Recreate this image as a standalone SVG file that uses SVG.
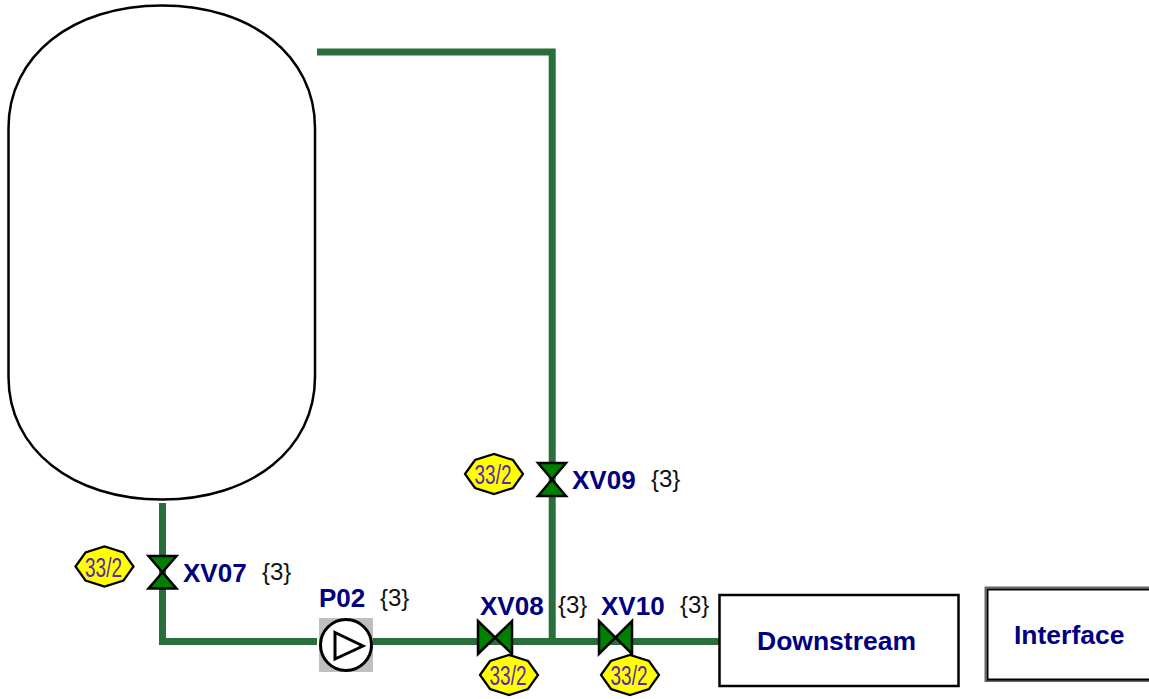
<svg xmlns="http://www.w3.org/2000/svg" width="1149" height="699" viewBox="0 0 1149 699">
<style>
.pipe{fill:none;stroke:#2a6e3c;stroke-width:7;stroke-linejoin:miter;stroke-linecap:butt}
.valve{fill:#008000;stroke:#000;stroke-width:2.5;stroke-linejoin:miter}
.badge{fill:#ffff00;stroke:#000;stroke-width:2.2}
.bt{font-family:"Liberation Sans",Arial,sans-serif;font-size:27px;fill:#5a2aa8;text-anchor:middle}
.tag{font-family:"Liberation Sans",Arial,sans-serif;font-size:26px;font-weight:bold;fill:#000080}
.cnt{font-family:"Liberation Sans",Arial,sans-serif;font-size:24px;fill:#111}
.box{font-family:"Liberation Sans",Arial,sans-serif;font-size:26.500px;font-weight:bold;fill:#000080}
</style>
<defs>
<polygon id="oct" class="badge" points="-29,0 -19,-14 0,-20 19,-14 29,0 19,14 0,20 -19,14"/>
</defs>
<rect width="1149" height="699" fill="#fff"/>
<g id="connectors">
<path class="pipe" d="M317 52H552.200V641.500"/>
<path class="pipe" d="M162.500 503V641.500H317"/>
<path class="pipe" d="M371 641.500H719"/>
</g>
<g id="vessel"><path d="M8.500 128C8.500 56 72 5.500 162 5.500C252 5.500 315 56 315 128V377C315 449 252 499.500 162 499.500C72 499.500 8.500 449 8.500 377Z" fill="#fff" stroke="#000" stroke-width="2.500"/></g>
<g id="XV07">
<polygon class="valve" points="148.500,556 176.500,556 148.500,588.500 176.500,588.500"/>
<use href="#oct" x="104.500" y="566.500"/>
<text class="bt" x="103.500" y="576.500" textLength="37" lengthAdjust="spacingAndGlyphs">33/2</text>
<text class="tag" x="183" y="582">XV07</text>
<text class="cnt" x="262" y="580">{3}</text>
</g>
<g id="P02">
<rect x="319" y="618" width="54" height="54" fill="#bfbfbf"/>
<circle cx="346" cy="645" r="25.500" fill="#fff" stroke="#000" stroke-width="3"/>
<polygon points="335,632.500 363,646 335,659" fill="#fff" stroke="#000" stroke-width="3"/>
<text class="tag" x="319" y="607">P02</text>
<text class="cnt" x="380" y="606">{3}</text>
</g>
<g id="XV08">
<polygon class="valve" points="478,621 478,654 512,621 512,654"/>
<use href="#oct" x="509" y="675"/>
<text class="bt" x="508" y="685" textLength="37" lengthAdjust="spacingAndGlyphs">33/2</text>
<text class="tag" x="480" y="615">XV08</text>
<text class="cnt" x="558" y="613">{3}</text>
</g>
<g id="XV09">
<polygon class="valve" points="538,463 566,463 538,496 566,496"/>
<use href="#oct" x="494" y="474"/>
<text class="bt" x="493" y="483.500" textLength="37" lengthAdjust="spacingAndGlyphs">33/2</text>
<text class="tag" x="572" y="488.500">XV09</text>
<text class="cnt" x="651" y="487">{3}</text>
</g>
<g id="XV10">
<polygon class="valve" points="599,621 599,654 632,621 632,654"/>
<use href="#oct" x="630" y="675"/>
<text class="bt" x="629" y="685" textLength="37" lengthAdjust="spacingAndGlyphs">33/2</text>
<text class="tag" x="601" y="615">XV10</text>
<text class="cnt" x="680" y="613">{3}</text>
</g>
<g id="Downstream">
<rect x="719.500" y="595" width="239" height="91" fill="#fff" stroke="#000" stroke-width="2.500"/>
<text class="box" x="757" y="650">Downstream</text>
</g>
<g id="Interface">
<rect x="985.500" y="587.500" width="170" height="93.500" fill="#fff" stroke="#666" stroke-width="2"/>
<rect x="987.500" y="589.500" width="170" height="90" fill="none" stroke="#000" stroke-width="2"/>
<text class="box" x="1014" y="644">Interface</text>
</g>
</svg>
